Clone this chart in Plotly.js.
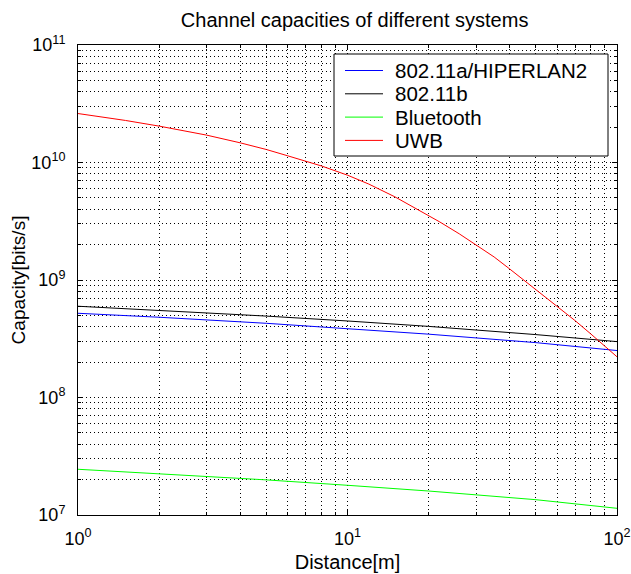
<!DOCTYPE html>
<html>
<head>
<meta charset="utf-8">
<script src="https://cdn.plot.ly/plotly-3.0.1.min.js"></script>
<style>
  html, body { margin: 0; padding: 0; background: #ffffff; }
  #chart { width: 631px; height: 574px; }
</style>
</head>
<body>
<div id="chart"></div>
<script>
// Distance samples [m]
const distanceUwb = [1, 1.5, 2, 3, 4, 5, 6, 7, 8, 10, 12, 15, 18, 22, 26, 30, 35, 40, 45, 50, 60, 70, 80, 90, 100];
const distanceNarrow = [1, 2, 5, 10, 20, 50, 100];

// Capacities [bits/s]
const capUwb = [2.61e10, 2.28e10, 2.04e10, 1.71e10, 1.47e10, 1.29e10, 1.14e10, 1.03e10, 9.35e9, 7.8e9,
                6.55e9, 5.1e9, 4.05e9, 3.12e9, 2.47e9, 2.0e9, 1.57e9, 1.24e9, 1.0e9, 8.25e8,
                6.0e8, 4.5e8, 3.47e8, 2.76e8, 2.22e8];
const capHiperlan = [5.21e8, 4.82e8, 4.28e8, 3.86e8, 3.46e8, 2.93e8, 2.51e8];
const cap80211b = [5.98e8, 5.53e8, 4.93e8, 4.48e8, 4.03e8, 3.43e8, 2.99e8];
const capBluetooth = [2.45e7, 2.25e7, 1.99e7, 1.79e7, 1.60e7, 1.35e7, 1.14e7];

const seriesNames = ['802.11a/HIPERLAN2', '802.11b', 'Bluetooth', 'UWB'];
const seriesColors = ['#0000ff', '#000000', '#00ff00', '#ff0000'];

// Axis ticks
const xMajor = [1, 10, 100];
const xMajorText = ['10<sup>0</sup>', '10<sup>1</sup>', '10<sup>2</sup>'];
const yMajor = [1e7, 1e8, 1e9, 1e10, 1e11];
const yMajorText = ['10<sup>7</sup>', '10<sup>8</sup>', '10<sup>9</sup>', '10<sup>10</sup>', '10<sup>11</sup>'];

function minorDecades(lo, hi) {
  const v = [];
  for (let e = lo; e < hi; e++) {
    for (let m = 2; m <= 9; m++) v.push(m * Math.pow(10, e));
  }
  return v;
}

const FONT = 'Liberation Sans, Arial, Helvetica, sans-serif';
const GRID_DASH = '1px,3px';

// Figure geometry (pixels)
const W = 631, H = 574;
const M = { l: 78, r: 14, t: 45, b: 59 };
const plotW = W - M.l - M.r;
const plotH = H - M.t - M.b;
const px = v => (v - M.l) / plotW;      // pixel x -> paper x
const py = v => (H - M.b - v) / plotH;  // pixel y -> paper y

const xData = [distanceNarrow, distanceNarrow, distanceNarrow, distanceUwb];
const yData = [capHiperlan, cap80211b, capBluetooth, capUwb];

const traces = seriesNames.map((name, i) => ({
  type: 'scatter', mode: 'lines', hoverinfo: 'skip', showlegend: false,
  x: xData[i], y: yData[i], name: name,
  line: { color: seriesColors[i], width: 1 }
}));

const axisCommon = {
  type: 'log',
  showline: true,
  linecolor: '#000000',
  linewidth: 1,
  mirror: 'allticks',
  ticks: 'inside',
  ticklen: 5,
  tickcolor: '#000000',
  tickmode: 'array',
  showgrid: true,
  gridcolor: '#000000',
  gridwidth: 1,
  griddash: GRID_DASH,
  zeroline: false,
  tickfont: { family: FONT, size: 18, color: '#000000' }
};

// Legend box: frame, key lines and labels
const legendBox = { x0: 334, x1: 608, y0: 54, y1: 156 };
const legendRow0 = 70.5, legendRowStep = 23.3;
const legendShapes = [{
  type: 'rect', xref: 'paper', yref: 'paper',
  x0: px(legendBox.x0), x1: px(legendBox.x1), y0: py(legendBox.y1), y1: py(legendBox.y0),
  line: { color: '#000000', width: 1 }, fillcolor: '#ffffff', layer: 'above'
}];
const legendNotes = [];
seriesNames.forEach((name, i) => {
  const ry = legendRow0 + i * legendRowStep;
  legendShapes.push({
    type: 'line', xref: 'paper', yref: 'paper',
    x0: px(345), x1: px(383), y0: py(ry), y1: py(ry),
    line: { color: seriesColors[i], width: 1 }, layer: 'above'
  });
  legendNotes.push({
    xref: 'paper', yref: 'paper', x: px(393), y: py(ry),
    xanchor: 'left', yanchor: 'middle', showarrow: false,
    text: name, font: { family: FONT, size: 20.5, color: '#000000' }
  });
});

const layout = {
  width: W,
  height: H,
  margin: M,
  paper_bgcolor: '#ffffff',
  plot_bgcolor: '#ffffff',
  font: { family: FONT, color: '#000000' },
  title: {
    text: 'Channel capacities of different systems',
    font: { family: FONT, size: 20, color: '#000000' },
    x: 0.562, xanchor: 'center',
    y: 0.965, yanchor: 'middle'
  },
  xaxis: Object.assign({}, axisCommon, {
    range: [0, 2],
    tickvals: xMajor,
    ticktext: xMajorText,
    ticklabelstandoff: 7,
    minor: {
      tickmode: 'array', tickvals: minorDecades(0, 2),
      ticks: 'inside', ticklen: 3, tickcolor: '#000000',
      showgrid: true, gridcolor: '#000000', gridwidth: 1, griddash: GRID_DASH
    },
    title: { text: 'Distance[m]', font: { family: FONT, size: 20, color: '#000000' }, standoff: 7 }
  }),
  yaxis: Object.assign({}, axisCommon, {
    range: [7, 11],
    tickvals: yMajor,
    ticktext: yMajorText,
    ticklabelstandoff: 8,
    minor: {
      tickmode: 'array', tickvals: minorDecades(7, 11),
      ticks: 'inside', ticklen: 3, tickcolor: '#000000',
      showgrid: true, gridcolor: '#000000', gridwidth: 1, griddash: GRID_DASH
    },
    title: { text: 'Capacity[bits/s]', font: { family: FONT, size: 19, color: '#000000' }, standoff: 0 }
  }),
  showlegend: false,
  shapes: legendShapes,
  annotations: legendNotes
};

Plotly.newPlot('chart', traces, layout, { staticPlot: true, displayModeBar: false });
</script>
</body>
</html>
